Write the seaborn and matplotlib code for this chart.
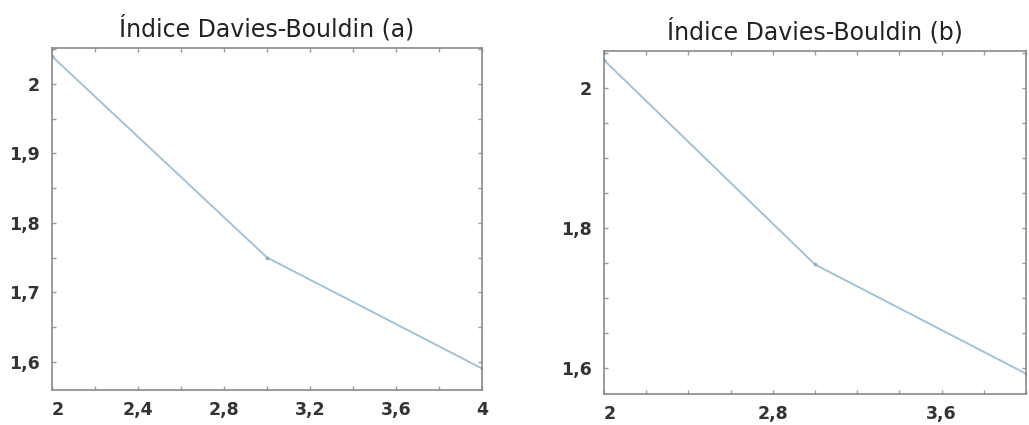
import matplotlib
matplotlib.use("Agg")
import matplotlib.pyplot as plt
import seaborn as sns
import pandas as pd
from matplotlib.ticker import MultipleLocator, FixedLocator, FuncFormatter

# Data
k_values = [2, 3, 4]
db_a = [2.04, 1.75, 1.59]
db_b = [2.04, 1.748, 1.592]
titles = ["Índice Davies-Bouldin (a)", "Índice Davies-Bouldin (b)"]
xticks_a = [2, 2.4, 2.8, 3.2, 3.6, 4]
xticks_b = [2, 2.8, 3.6]
yticks_a = [1.6, 1.7, 1.8, 1.9, 2.0]
yticks_b = [1.6, 1.8, 2.0]

sns.set_theme(style="white")
plt.rcParams['font.family'] = ['DejaVu Sans']

W, H = 1029, 425
fig = plt.figure(figsize=(W / 100, H / 100), dpi=100)
fig.patch.set_facecolor("white")

ax_a = fig.add_axes([52 / W, 35 / H, 430 / W, 342 / H])
ax_b = fig.add_axes([604 / W, 31 / H, 422 / W, 343 / H])

comma = FuncFormatter(lambda v, p: f"{v:g}".replace(".", ","))

configs = [
    (ax_a, db_a, titles[0], (1.559, 2.052), xticks_a, yticks_a),
    (ax_b, db_b, titles[1], (1.563, 2.053), xticks_b, yticks_b),
]

line_color = "#a3c2d6"
spine_color = "#8a8a8a"

for ax, vals, title, ylim, xt, yt in configs:
    df = pd.DataFrame({"k": k_values, "db": vals})
    sns.lineplot(data=df, x="k", y="db", ax=ax, color=line_color, linewidth=1.4,
                 marker="o", markersize=2.5, markeredgewidth=0,
                 markerfacecolor="#8fa7b8")
    ax.set_xlim(2, 4)
    ax.set_ylim(*ylim)
    ax.set_xlabel("")
    ax.set_ylabel("")
    ax.set_title(title, fontsize=17, pad=8, color="#222222")
    ax.xaxis.set_major_locator(FixedLocator(xt))
    ax.xaxis.set_minor_locator(MultipleLocator(0.2))
    ax.yaxis.set_major_locator(FixedLocator(yt))
    ax.yaxis.set_minor_locator(MultipleLocator(0.05))
    ax.xaxis.set_major_formatter(comma)
    ax.yaxis.set_major_formatter(comma)
    ax.tick_params(which="both", direction="in", length=3, width=1,
                   color="#9a9a9a", top=True, right=True, bottom=True, left=True)
    ax.tick_params(axis="x", which="major", pad=8, labelsize=12.5,
                   labelcolor="#333333")
    ax.tick_params(axis="y", which="major", pad=9, labelsize=12.5,
                   labelcolor="#333333")
    for lab in ax.get_xticklabels() + ax.get_yticklabels():
        lab.set_fontweight("bold")
    for s in ax.spines.values():
        s.set_visible(True)
        s.set_color(spine_color)
        s.set_linewidth(1.2)
    ax.grid(False)
    ax.set_facecolor("white")
    fig.canvas.draw()
    xl = ax.get_xticklabels()
    if xl:
        xl[0].set_horizontalalignment("left")

fig.savefig("out.png", dpi=100, facecolor="white")
